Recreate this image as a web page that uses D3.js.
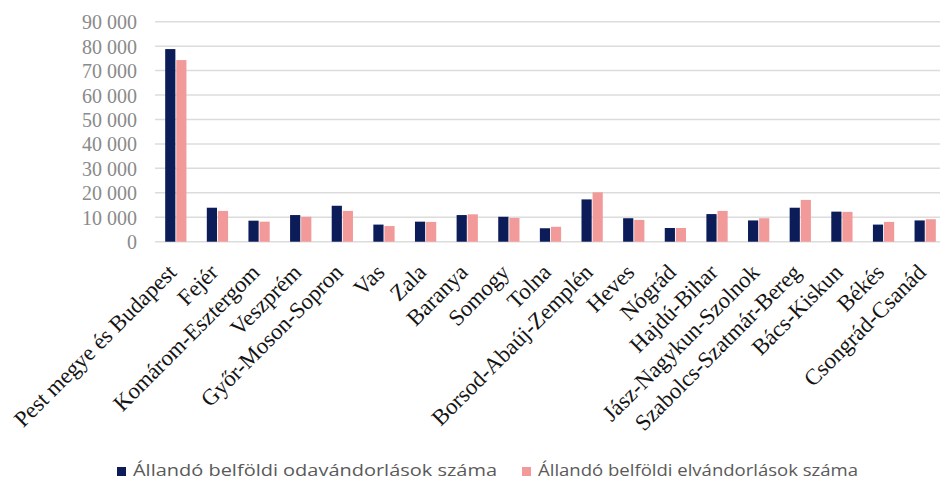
<!DOCTYPE html>
<html>
<head>
<meta charset="utf-8">
<script src="https://cdn.jsdelivr.net/npm/d3@7"></script>
<style>
  html, body { margin: 0; padding: 0; background: #fff; }
  svg { display: block; }
</style>
</head>
<body>
<svg id="chart" width="940" height="482"></svg>
<script>
// Megyék (categories)
const categories = [
  "Pest megye és Budapest", "Fejér", "Komárom-Esztergom", "Veszprém",
  "Győr-Moson-Sopron", "Vas", "Zala", "Baranya", "Somogy", "Tolna",
  "Borsod-Abaúj-Zemplén", "Heves", "Nógrád", "Hajdú-Bihar",
  "Jász-Nagykun-Szolnok", "Szabolcs-Szatmár-Bereg", "Bács-Kiskun",
  "Békés", "Csongrád-Csanád"
];

// Állandó belföldi odavándorlások száma
const inMigration = [
  78800, 13900, 8600, 10900, 14700, 7000, 8200, 10900, 10200, 5500,
  17300, 9600, 5600, 11300, 8700, 13900, 12300, 7000, 8700
];

// Állandó belföldi elvándorlások száma
const outMigration = [
  74300, 12600, 8200, 10200, 12600, 6400, 8100, 11200, 9700, 6100,
  20200, 8900, 5600, 12600, 9600, 17100, 12200, 8100, 9200
];

const seriesNames = [
  "Állandó belföldi odavándorlások száma",
  "Állandó belföldi elvándorlások száma"
];
const seriesColors = ["#0b1c58", "#f29a99"];

const yTicks = [0, 10000, 20000, 30000, 40000, 50000, 60000, 70000, 80000, 90000];

const svg = d3.select("#chart");

const plotLeft = 155, plotRight = 946, plotTop = 21.7, plotBottom = 241.7;

const x = d3.scaleBand()
  .domain(categories)
  .range([plotLeft, plotRight])
  .paddingInner(0)
  .paddingOuter(0);

const x1 = d3.scaleBand()
  .domain([0, 1])
  .range([0, x.bandwidth()])
  .paddingInner(0.08)
  .paddingOuter(0.92);

const y = d3.scaleLinear()
  .domain([0, 90000])
  .range([plotBottom, plotTop]);

const fmt = v => d3.format(",")(v).replace(/,/g, " ");

// Gridlines
svg.append("g")
  .selectAll("line")
  .data(yTicks)
  .join("line")
  .attr("x1", plotLeft)
  .attr("x2", plotRight)
  .attr("y1", d => y(d))
  .attr("y2", d => y(d))
  .attr("stroke", "#dcdcdc")
  .attr("stroke-width", 1.5);

// Y axis labels
const yAxis = d3.axisLeft(y).tickValues(yTicks).tickFormat(fmt).tickSize(0).tickPadding(0);
const yg = svg.append("g")
  .attr("transform", `translate(${plotLeft - 18},0)`)
  .call(yAxis);
yg.select(".domain").remove();
yg.selectAll("text")
  .attr("font-family", "'Liberation Serif', 'Times New Roman', serif")
  .attr("font-size", 20)
  .attr("fill", "#8a8a8a")
  .attr("dy", "0.35em");

// Bars
const series = [inMigration, outMigration];
const groups = svg.append("g")
  .selectAll("g")
  .data(categories)
  .join("g")
  .attr("transform", d => `translate(${x(d)},0)`);

groups.selectAll("rect")
  .data((d, i) => series.map((s, k) => ({ k, v: s[i] })))
  .join("rect")
  .attr("x", d => x1(d.k))
  .attr("width", x1.bandwidth())
  .attr("y", d => y(d.v))
  .attr("height", d => y(0) - y(d.v))
  .attr("fill", d => seriesColors[d.k]);

// X axis labels (rotated)
svg.append("g")
  .selectAll("text")
  .data(categories)
  .join("text")
  .attr("transform", d => `translate(${x(d) + x.bandwidth() / 2 + 2},${plotBottom + 32}) rotate(-45)`)
  .attr("text-anchor", "end")
  .attr("font-family", "'Liberation Serif', 'Times New Roman', serif")
  .attr("font-size", 22.7)
  .attr("fill", "#141414")
  .text(d => d);

// Legend
const legendItems = [
  { name: seriesNames[0], color: seriesColors[0], x: 117, w: 364 },
  { name: seriesNames[1], color: seriesColors[1], x: 522, w: 320 }
];
const lg = svg.append("g");
legendItems.forEach(it => {
  lg.append("rect")
    .attr("x", it.x)
    .attr("y", 467)
    .attr("width", 9)
    .attr("height", 9)
    .attr("fill", it.color);
  lg.append("text")
    .attr("x", it.x + 16)
    .attr("y", 476)
    .attr("font-family", "'Open Sans', sans-serif")
    .attr("font-size", 17)
    .attr("fill", "#5a5a5a")
    .attr("textLength", it.w)
    .attr("lengthAdjust", "spacingAndGlyphs")
    .text(it.name);
});
</script>
</body>
</html>
